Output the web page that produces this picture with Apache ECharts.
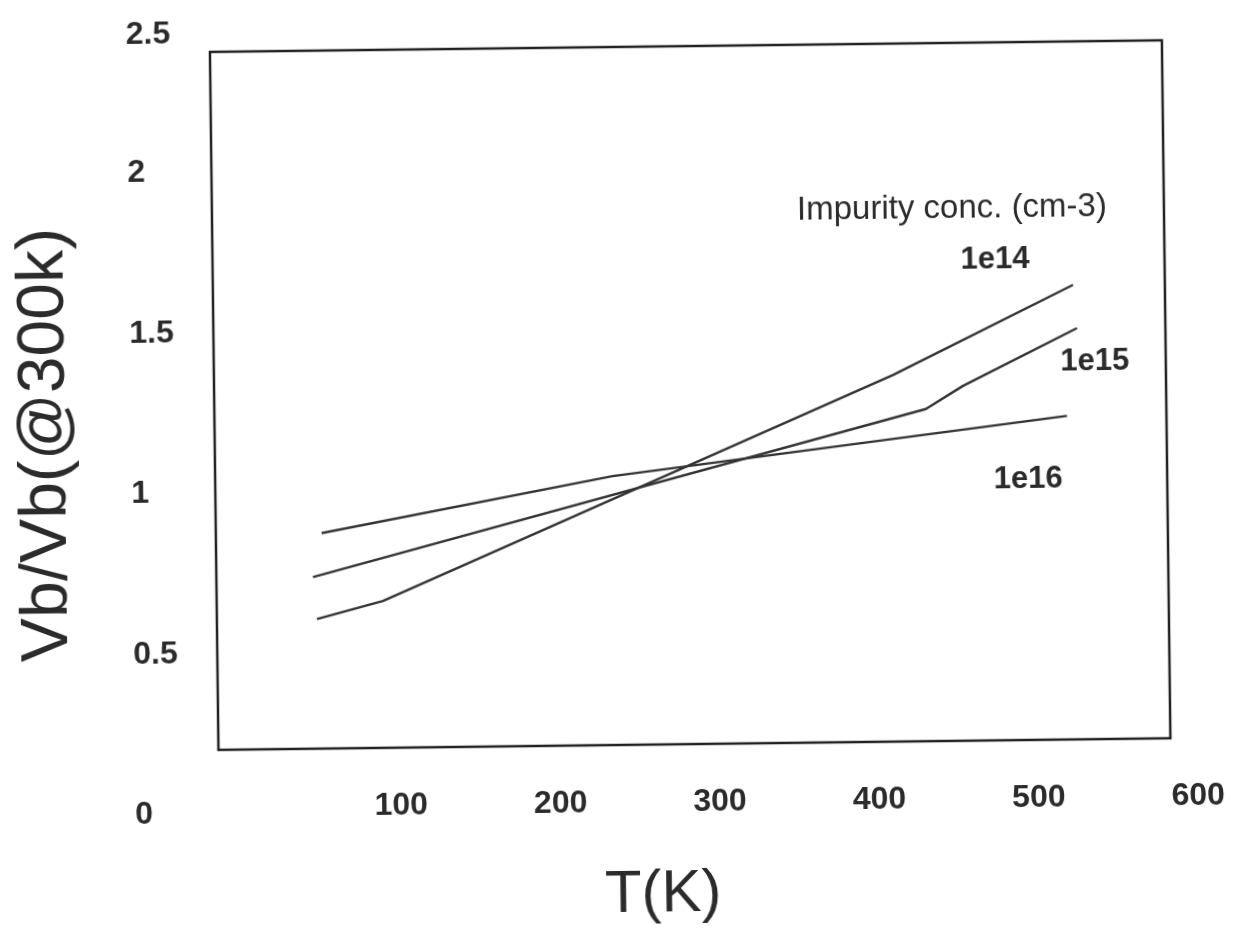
<!DOCTYPE html>
<html>
<head>
<meta charset="utf-8">
<script src="https://cdn.jsdelivr.net/npm/echarts@6/dist/echarts.min.js"></script>
<style>
  html, body { margin: 0; padding: 0; background: #fff; overflow: hidden; }
  /* the printed figure sits slightly tilted on the page */
  #chart { width: 1233px; height: 929px; transform: rotate(-0.7deg); transform-origin: 616px 464px; }
</style>
</head>
<body>
<div id="chart"></div>
<script>
// Temperature (K) and normalised breakdown voltage Vb/Vb(300 K) per impurity concentration
const temp1e14  = [63.1, 104.8, 428.0, 542.1];
const ratio1e14 = [0.464, 0.526, 1.313, 1.628];

const temp1e15  = [60.9, 448.5, 472.0, 544.3];
const ratio1e15 = [0.615, 1.190, 1.271, 1.473];

const temp1e16  = [66.7, 250.3, 537.3];
const ratio1e16 = [0.772, 0.963, 1.159];

const seriesNames = ['1e14', '1e15', '1e16'];
const legendTitle = 'Impurity conc. (cm-3)';
const xTitle = 'T(K)';
const yTitle = 'Vb/Vb(@300k)';

// axis ranges and tick steps
const tempRange  = [0, 600];
const tempStep   = 100;
const ratioRange = [0, 2.5];
const ratioStep  = 0.5;

const FONT = "'Liberation Sans', Arial, Helvetica, sans-serif";
const INK = '#2b2b2b';
const tickText = { fontSize: 32, fontWeight: 'bold', color: INK, fontFamily: FONT };

const pairs = (xs, ys) => xs.map((x, i) => [x, ys[i]]);

const chart = echarts.init(document.getElementById('chart'), null, { renderer: 'canvas' });

const lineSeries = [
  [temp1e14, ratio1e14],
  [temp1e15, ratio1e15],
  [temp1e16, ratio1e16]
].map(([t, r], i) => ({
  name: seriesNames[i],
  type: 'line',
  xAxisIndex: 0,
  yAxisIndex: 0,
  data: pairs(t, r),
  symbol: 'none',
  silent: true,
  lineStyle: { color: '#333', width: 2.4 }
}));

chart.setOption({
  animation: false,
  backgroundColor: '#fff',
  grid: [
    // plotting frame
    { left: 215, top: 47, width: 952, height: 698, show: true, borderColor: '#222', borderWidth: 2.5, backgroundColor: 'transparent' },
    // temperature tick labels
    { left: 237.7, top: 700, width: 956.5, height: 80 },
    // ratio tick labels
    { left: 231, top: 6.8, width: 100, height: 802.5 }
  ],
  xAxis: [
    { gridIndex: 0, type: 'value', min: tempRange[0], max: tempRange[1], show: false },
    {
      gridIndex: 1, type: 'value', min: tempRange[0], max: tempRange[1], interval: tempStep,
      axisLine: { show: false }, axisTick: { show: false }, splitLine: { show: false },
      axisLabel: Object.assign({ showMinLabel: false, margin: 7 }, tickText)
    },
    { gridIndex: 2, type: 'value', show: false }
  ],
  yAxis: [
    { gridIndex: 0, type: 'value', min: ratioRange[0], max: ratioRange[1], show: false },
    { gridIndex: 1, type: 'value', show: false },
    {
      gridIndex: 2, type: 'value', min: ratioRange[0], max: ratioRange[1], interval: ratioStep,
      axisLine: { show: false }, axisTick: { show: false }, splitLine: { show: false },
      axisLabel: Object.assign({
        align: 'left', margin: 100,
        // the top label is set a little lower than the even spacing
        formatter: v => (v === ratioRange[1] ? `{top|${v}}` : `{n|${v}}`),
        rich: {
          n: Object.assign({}, tickText),
          top: Object.assign({ padding: [45, 0, 0, 0] }, tickText)
        }
      }, tickText)
    }
  ],
  series: lineSeries,
  graphic: [
    {
      type: 'text', x: 47, y: 438, rotation: Math.PI / 2,
      style: { text: yTitle, font: `66px ${FONT}`, fill: INK, align: 'center', verticalAlign: 'middle' }
    },
    {
      type: 'text', x: 658, y: 895,
      style: { text: xTitle, font: `60px ${FONT}`, fill: INK, align: 'center', verticalAlign: 'middle' }
    },
    {
      type: 'text', x: 955, y: 213,
      style: { text: legendTitle, font: `33px ${FONT}`, fill: INK, align: 'center', verticalAlign: 'middle' }
    },
    {
      type: 'text', x: 997.5, y: 264,
      style: { text: seriesNames[0], font: `bold 31px ${FONT}`, fill: INK, align: 'center', verticalAlign: 'middle' }
    },
    {
      type: 'text', x: 1096, y: 367,
      style: { text: seriesNames[1], font: `bold 31px ${FONT}`, fill: INK, align: 'center', verticalAlign: 'middle' }
    },
    {
      type: 'text', x: 1028, y: 484,
      style: { text: seriesNames[2], font: `bold 31px ${FONT}`, fill: INK, align: 'center', verticalAlign: 'middle' }
    }
  ]
});
</script>
</body>
</html>
